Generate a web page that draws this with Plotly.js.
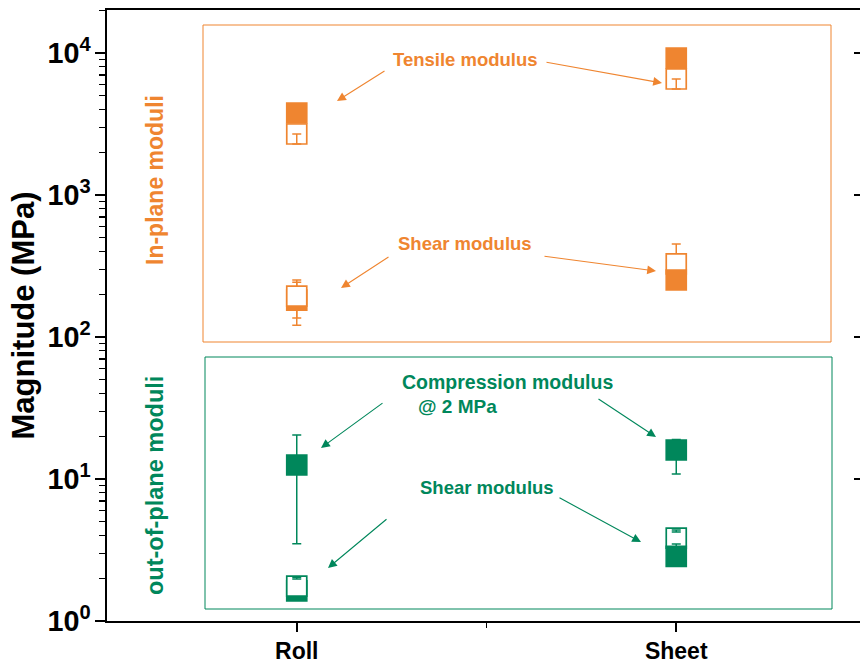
<!DOCTYPE html>
<html><head><meta charset="utf-8">
<script src="https://cdn.plot.ly/plotly-3.0.1.min.js"></script>
<style>html,body{margin:0;padding:0;overflow:hidden;background:#fff}</style>
</head><body><div id="chart" style="width:900px;height:664px"></div>
<script>
// ---------------- data ----------------
const categories = ['Roll', 'Sheet'];

// In-plane tensile modulus (MPa)
const tensileFilled = [3780, 9220];
const tensileFilledErrPlus = [0, 0];
const tensileFilledErrMinus = [0, 0];
const tensileOpen = [2690, 6560];
const tensileOpenErrPlus = [0, 0];
const tensileOpenErrMinus = [0, 0];

// In-plane shear modulus (MPa)
const shearFilled = [182, 252];
const shearFilledErrPlus = [61, 0];
const shearFilledErrMinus = [61, 0];
const shearOpen = [194, 327];
const shearOpenErrPlus = [58, 125];
const shearOpenErrMinus = [58, 60];

// Out-of-plane compression modulus @ 2 MPa (MPa)
const compFilled = [12.55, 16.0];
const compFilledErrPlus = [7.9, 3.0];
const compFilledErrMinus = [9.05, 5.15];

// Out-of-plane shear modulus (MPa)
const oopShearFilled = [1.63, 2.85];
const oopShearFilledErrPlus = [0, 0];
const oopShearFilledErrMinus = [0, 0];
const oopShearOpen = [1.76, 3.84];
const oopShearOpenErrPlus = [0, 0];
const oopShearOpenErrMinus = [0, 0];

// small caps drawn over the symbols
const tensileCapX = ['Roll', 'Sheet'];
const tensileCapTop = [2690, 6560];
const tensileCapEnd = [2290, 5580];
const oopCapX = ['Roll', 'Sheet', 'Sheet'];
const oopCapTop = [2.03, 4.37, 3.49];
const oopCapEnd = [1.98, 4.23, 3.32];

// axis ticks
const yTickVals = [1, 10, 100, 1000, 10000];
const yLabelAlias = {'1': '10<sup>0</sup>', '10': '10<sup>1</sup>'};
const yMinorDigits = [2, 3, 4, 5, 6, 7, 8, 9];

// ---------------- style ----------------
const ORANGE = '#EF8530';
const GREEN = '#00875B';
const FONT = 'Liberation Sans, Arial, sans-serif';
const xPos = name => categories.indexOf(name) + 1;
const yMinorVals = [];
yTickVals.forEach(d => yMinorDigits.forEach(m => yMinorVals.push(d * m)));

const groups = [
  {color: ORANGE, filled: [tensileFilled, tensileFilledErrPlus, tensileFilledErrMinus], open: [tensileOpen, tensileOpenErrPlus, tensileOpenErrMinus]},
  {color: ORANGE, filled: [shearFilled, shearFilledErrPlus, shearFilledErrMinus], open: [shearOpen, shearOpenErrPlus, shearOpenErrMinus]},
  {color: GREEN, filled: [compFilled, compFilledErrPlus, compFilledErrMinus], open: null},
  {color: GREEN, filled: [oopShearFilled, oopShearFilledErrPlus, oopShearFilledErrMinus], open: [oopShearOpen, oopShearOpenErrPlus, oopShearOpenErrMinus]}
];

function pointTrace(ci, color, arr, isFilled) {
  return {
    type: 'scatter', mode: 'markers', showlegend: false, hoverinfo: 'skip',
    x: [ci + 1], y: [arr[0][ci]],
    marker: {symbol: 'square', size: 20, color: isFilled ? color : '#ffffff', line: {color: color, width: 1.7}},
    error_y: {type: 'data', symmetric: false, array: [arr[1][ci]], arrayminus: [arr[2][ci]], color: color, thickness: 1.5, width: 4.5}
  };
}

const traces = [];
// empty traces that only carry the extra tick axes (right mirror ticks, left minor ticks)
traces.push({type: 'scatter', mode: 'markers', x: [], y: [], yaxis: 'y2', showlegend: false, hoverinfo: 'skip'});
traces.push({type: 'scatter', mode: 'markers', x: [], y: [], yaxis: 'y3', showlegend: false, hoverinfo: 'skip'});

categories.forEach((c, ci) => {
  groups.forEach(g => {
    const f = pointTrace(ci, g.color, g.filled, true);
    const o = g.open ? pointTrace(ci, g.color, g.open, false) : null;
    // Roll: open symbol above the filled one; Sheet: filled above the open one
    const order = ci === 0 ? [f, o] : [o, f];
    order.forEach(t => { if (t) traces.push(t); });
  });
});

function capTrace(xs, tops, ends, color) {
  return {
    type: 'scatter', mode: 'markers', showlegend: false, hoverinfo: 'skip',
    x: xs.map(xPos), y: tops,
    marker: {size: 2, opacity: 0, color: color},
    error_y: {type: 'data', symmetric: false, array: tops.map(() => 0), arrayminus: tops.map((t, i) => t - ends[i]), color: color, thickness: 1.5, width: 4.5}
  };
}
traces.push(capTrace(tensileCapX, tensileCapTop, tensileCapEnd, ORANGE));
traces.push(capTrace(oopCapX, oopCapTop, oopCapEnd, GREEN));

// plot area in pixels: x 107..866, y 10..621
const PL = 107, PR = 866, PT = 10, PB = 621;
const px = v => (v - PL) / (PR - PL);
const py = v => (PB - v) / (PB - PT);

function label(text, x, y, color, size, angle) {
  return {xref: 'paper', yref: 'paper', x: px(x), y: py(y), text: text, showarrow: false,
    textangle: angle || 0, xanchor: 'center', yanchor: 'middle',
    font: {family: FONT, size: size, color: color, weight: 'bold'}};
}
function arrow(tx, ty, hx, hy, color) {
  return {xref: 'paper', yref: 'paper', x: px(hx), y: py(hy), ax: tx - hx, ay: ty - hy,
    text: '', showarrow: true, arrowhead: 2, arrowsize: 1.6, arrowwidth: 1.1, arrowcolor: color, standoff: 0, startstandoff: 0};
}

const annotations = [
  label('In-plane moduli', 155, 180, ORANGE, 23, -90),
  label('out-of-plane moduli', 155, 486, GREEN, 23.5, -90),
  label('Tensile modulus', 465, 59, ORANGE, 18.5),
  label('Shear modulus', 465, 243, ORANGE, 18.5),
  label('Compression modulus', 507, 382, GREEN, 19.5),
  label('@ 2 MPa', 457, 407, GREEN, 19),
  label('Shear modulus', 487, 487, GREEN, 18.5),
  arrow(386, 70, 337, 101, ORANGE),
  arrow(545, 62, 662, 83, ORANGE),
  arrow(390, 256, 341, 288, ORANGE),
  arrow(543, 256, 656, 271, ORANGE),
  arrow(384, 402, 321, 448, GREEN),
  arrow(597, 398, 656, 437, GREEN),
  arrow(388, 518, 328, 568, GREEN),
  arrow(558, 497, 641, 542, GREEN)
];

const shapes = [
  {type: 'rect', xref: 'paper', yref: 'paper', x0: px(203), x1: px(831), y0: py(342), y1: py(25), line: {color: ORANGE, width: 1}},
  {type: 'rect', xref: 'paper', yref: 'paper', x0: px(205), x1: px(832), y0: py(609), y1: py(357), line: {color: GREEN, width: 1}}
];

const layout = {
  width: 900, height: 664,
  margin: {l: PL, r: 900 - PR, t: PT, b: 664 - PB},
  paper_bgcolor: '#fff', plot_bgcolor: '#fff',
  showlegend: false,
  font: {family: FONT, color: '#000'},
  xaxis: {
    range: [0.5, 2.5], tickmode: 'array', tickvals: categories.map(xPos), ticktext: categories,
    ticks: 'outside', ticklen: 9, tickwidth: 1.8, tickcolor: '#000',
    showline: true, linewidth: 1.8, linecolor: '#000', mirror: true,
    showgrid: false, zeroline: false, ticklabelstandoff: 0,
    tickfont: {family: FONT, size: 23, color: '#000', weight: 'bold'},
    minor: {tickvals: [1.5], ticks: 'outside', ticklen: 5, tickwidth: 1.8, tickcolor: '#000', showgrid: false}
  },
  yaxis: {
    type: 'log', range: [0, 4.303], tickmode: 'linear', tick0: 0, dtick: 1,
    exponentformat: 'power', labelalias: yLabelAlias,
    ticks: 'outside', ticklen: 10, tickwidth: 1.8, tickcolor: '#000',
    showline: true, linewidth: 1.8, linecolor: '#000',
    showgrid: false, zeroline: false,
    tickfont: {family: FONT, size: 23, color: '#000', weight: 'bold'},
    title: {text: 'Magnitude (MPa)', standoff: 3, font: {family: FONT, size: 31, color: '#000', weight: 'bold'}},
    minor: {dtick: 'D1', ticks: 'outside', ticklen: 6, tickwidth: 1.4, tickcolor: '#000', showgrid: false}
  },
  yaxis2: {
    type: 'log', range: [0, 4.303], overlaying: 'y', side: 'right', anchor: 'x',
    tickmode: 'array', tickvals: yTickVals, showticklabels: false,
    ticks: 'inside', ticklen: 12, tickwidth: 1.8, tickcolor: '#000',
    showline: true, linewidth: 1.8, linecolor: '#000', showgrid: false, zeroline: false
  },
  yaxis3: {
    type: 'log', range: [0, 4.303], overlaying: 'y', side: 'left', anchor: 'x',
    tickmode: 'array', tickvals: yMinorVals, showticklabels: false,
    ticks: 'outside', ticklen: 6, tickwidth: 1.4, tickcolor: '#000',
    showline: true, linewidth: 1.8, linecolor: '#000', showgrid: false, zeroline: false
  },
  shapes: shapes,
  annotations: annotations
};

Plotly.newPlot('chart', traces, layout, {displayModeBar: false, staticPlot: true});
</script>
</body></html>
